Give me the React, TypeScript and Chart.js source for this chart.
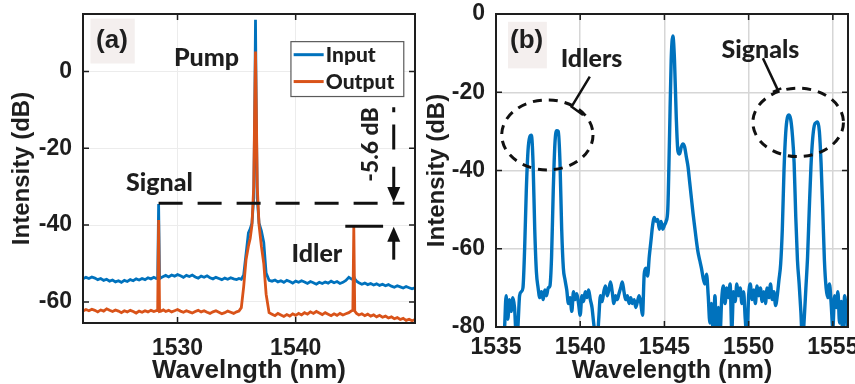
import React, { useEffect, useRef } from "react";
import { Chart, registerables } from "chart.js";

Chart.register(...registerables);

// ---------------- Panel (a) data ----------------
const wavelengthA = [
  1522.0, 1522.25, 1522.5, 1522.75, 1523.0, 1523.25, 1523.5, 1523.75, 1524.0, 1524.25, 1524.5, 1524.75, 1525.0,
  1525.25, 1525.5, 1525.75, 1526.0, 1526.25, 1526.5, 1526.75, 1527.0, 1527.25, 1527.5, 1527.75, 1528.0, 1528.2,
  1528.32, 1528.4, 1528.48,
  1528.6, 1528.8, 1529.0, 1529.25, 1529.5, 1529.75, 1530.0, 1530.25, 1530.5, 1530.75, 1531.0, 1531.25, 1531.5,
  1531.75, 1532.0, 1532.25, 1532.5, 1532.75, 1533.0, 1533.25, 1533.5, 1533.75, 1534.0, 1534.25, 1534.5, 1534.75,
  1535.0, 1535.2,
  1535.4, 1535.6, 1535.8, 1536.0, 1536.15, 1536.3, 1536.45, 1536.53, 1536.6, 1536.67, 1536.75, 1536.9, 1537.1,
  1537.3, 1537.5, 1537.75,
  1538.0, 1538.25, 1538.5, 1538.75, 1539.0, 1539.25, 1539.5, 1539.75, 1540.0, 1540.25, 1540.5, 1540.75, 1541.0,
  1541.25, 1541.5, 1541.75, 1542.0, 1542.25, 1542.5, 1542.75, 1543.0, 1543.25, 1543.5, 1543.75, 1544.0, 1544.25,
  1544.5, 1544.7,
  1544.84, 1544.92, 1545.0,
  1545.15, 1545.35, 1545.6, 1545.85, 1546.1, 1546.35, 1546.6, 1546.85, 1547.1, 1547.35, 1547.6, 1547.85, 1548.1,
  1548.35, 1548.6, 1548.85, 1549.1, 1549.35, 1549.6, 1549.85, 1550.1, 1550.3,
];

const inputA = [
  -54.0, -53.6, -53.9, -53.5, -53.8, -54.2, -53.9, -54.4, -54.1, -54.6, -54.3, -54.8, -54.5,
  -54.9, -54.4, -54.7, -54.2, -54.5, -54.0, -54.3, -53.9, -54.2, -53.7, -54.0, -53.6, -53.9,
  -53.8, -34.5, -54.0,
  -53.7, -53.4, -53.1, -53.5, -53.0, -53.3, -52.9, -53.2, -53.6, -53.1, -53.4, -53.0, -53.5,
  -53.8, -53.3, -53.6, -53.2, -53.7, -54.0, -53.6, -53.9, -54.2, -53.8, -54.1, -53.7, -54.0,
  -54.2, -53.9,
  -54.1, -53.0, -47.5, -42.0, -41.0, -39.5, -33.0, -12.0, 13.5, -12.0, -33.0, -39.5, -41.5,
  -44.5, -52.5, -54.4,
  -54.6, -54.3, -54.8, -54.5, -54.9, -54.4, -54.7, -55.1, -54.6, -54.9, -54.5, -54.8, -55.2,
  -54.7, -55.0, -55.4, -54.9, -55.2, -54.8, -55.1, -54.6, -55.0, -54.7, -55.2, -54.9, -54.4,
  -53.6, -54.0,
  -54.2, -53.4, -54.0,
  -54.6, -55.0, -55.4, -55.1, -55.5, -55.2, -55.6, -55.3, -55.7, -55.4, -55.8, -55.5, -55.9,
  -56.2, -55.8, -56.1, -56.4, -56.0, -56.3, -56.6, -56.3, -56.5,
];

const outputA = [
  -62.4, -62.0, -62.3, -61.9, -62.2, -62.6, -62.1, -62.4, -61.8, -62.2, -62.5, -62.1, -62.4,
  -62.8, -62.3, -62.6, -62.2, -62.5, -62.9, -62.4, -62.7, -62.3, -62.6, -62.2, -62.5, -62.3,
  -62.3, -38.7, -62.5,
  -62.4, -62.1, -62.5, -62.2, -62.6, -62.3, -62.0, -62.4, -62.7, -62.3, -62.6, -62.9, -62.5,
  -62.2, -62.6, -62.3, -62.7, -63.0, -62.6, -62.3, -62.7, -63.1, -62.8, -62.4, -62.7, -63.0,
  -62.6, -62.4,
  -61.5, -56.0, -49.0, -45.5, -43.5, -40.0, -30.0, -10.0, 5.2, -10.0, -30.0, -40.0, -45.5,
  -50.0, -58.0, -62.8,
  -63.2, -63.6, -63.0, -63.4, -63.8, -63.3, -63.7, -63.1, -63.5, -63.0, -63.4, -62.8, -63.2,
  -62.6, -63.0, -62.5, -62.9, -63.3, -62.8, -63.2, -63.6, -63.1, -63.5, -63.0, -63.4, -63.1,
  -62.8, -62.4,
  -62.2, -40.5, -62.4,
  -63.0, -63.4, -63.1, -63.6, -63.2, -63.7, -63.4, -63.9, -63.5, -64.0, -63.7, -64.2, -63.9,
  -64.4, -64.1, -64.6, -64.3, -64.8, -64.5, -64.9, -64.6, -64.4,
];

const seriesNamesA = ["Input", "Output"];
const xTicksA = [1530, 1540];
const yTicksA = [0, -20, -40, -60];

// ---------------- Panel (b) data ----------------
const wavelengthB = [
  1535.0, 1535.1, 1535.2, 1535.3, 1535.4, 1535.5, 1535.6, 1535.7, 1535.8, 1535.9,
  1536.0, 1536.1, 1536.2, 1536.3, 1536.4, 1536.5, 1536.6, 1536.7, 1536.8, 1536.9,
  1537.0, 1537.1, 1537.2, 1537.3, 1537.4, 1537.5, 1537.6, 1537.7, 1537.8, 1537.9,
  1538.0, 1538.1, 1538.2, 1538.3, 1538.4, 1538.5, 1538.6, 1538.7, 1538.8, 1538.9,
  1539.0, 1539.1, 1539.2, 1539.3, 1539.4, 1539.5, 1539.6, 1539.7, 1539.8, 1539.9,
  1540.0, 1540.1, 1540.2, 1540.3, 1540.4, 1540.5, 1540.6, 1540.7, 1540.8, 1540.9,
  1541.0, 1541.1, 1541.2, 1541.3, 1541.4, 1541.5, 1541.6, 1541.7, 1541.8, 1541.9,
  1542.0, 1542.1, 1542.2, 1542.3, 1542.4, 1542.5, 1542.6, 1542.7, 1542.8, 1542.9,
  1543.0, 1543.1, 1543.2, 1543.3, 1543.4, 1543.5, 1543.6, 1543.7, 1543.8, 1543.9,
  1544.0, 1544.1, 1544.2, 1544.3, 1544.4, 1544.5, 1544.6, 1544.7, 1544.8, 1544.9,
  1545.0, 1545.1, 1545.2, 1545.3, 1545.4, 1545.5, 1545.6, 1545.7, 1545.8, 1545.9,
  1546.0, 1546.1, 1546.2, 1546.3, 1546.4, 1546.5, 1546.6, 1546.7, 1546.8, 1546.9,
  1547.0, 1547.1, 1547.2, 1547.3, 1547.4, 1547.5, 1547.6, 1547.7, 1547.8, 1547.9,
  1548.0, 1548.1, 1548.2, 1548.3, 1548.4, 1548.5, 1548.6, 1548.7, 1548.8, 1548.9,
  1549.0, 1549.1, 1549.2, 1549.3, 1549.4, 1549.5, 1549.6, 1549.7, 1549.8, 1549.9,
  1550.0, 1550.1, 1550.2, 1550.3, 1550.4, 1550.5, 1550.6, 1550.7, 1550.8, 1550.9,
  1551.0, 1551.1, 1551.2, 1551.3, 1551.4, 1551.5, 1551.6, 1551.7, 1551.8, 1551.9,
  1552.0, 1552.1, 1552.2, 1552.3, 1552.4, 1552.5, 1552.6, 1552.7, 1552.8, 1552.9,
  1553.0, 1553.1, 1553.2, 1553.3, 1553.4, 1553.5, 1553.6, 1553.7, 1553.8, 1553.9,
  1554.0, 1554.1, 1554.2, 1554.3, 1554.4, 1554.5, 1554.6, 1554.7, 1554.8, 1554.9,
  1555.0, 1555.1, 1555.2, 1555.3, 1555.4, 1555.5, 1555.6, 1555.7, 1555.8, 1555.9,
  1556.0,
];

const intensityB = [
  -84, -83, -85, -82, -84, -81, -72, -78, -73, -76,
  -72.5, -75, -82, -80, -72, -71, -70, -60, -45, -35,
  -31.5, -31, -38, -55, -66, -70, -72.5, -71, -73, -70.5,
  -72, -70, -69.5, -62, -45, -33, -29.8, -30, -38, -55,
  -65, -68, -70.5, -74, -72.5, -76, -71, -73, -71.5, -74,
  -77, -72, -73.5, -71, -72.5, -70.5, -73, -75, -79, -82,
  -84, -78, -72, -73.5, -71, -69.5, -72, -70.5, -68.5, -71,
  -74, -72, -73, -71.5, -70, -68.5, -71, -73, -72, -74,
  -72.5, -74, -73, -75, -73.5, -72, -74, -77, -66.5, -65,
  -67, -62, -58, -54, -52, -53, -52.5, -55, -53, -55,
  -54, -53, -50, -32, -12, -5.6, -12, -26, -35, -35.8,
  -34, -33.2, -34, -36.5, -39, -43, -47, -51, -54.5, -58,
  -61, -63, -65, -67.5, -69, -66.5, -72, -79, -74, -82,
  -72, -84, -75, -82, -73, -69.5, -74, -70, -72.5, -69,
  -81, -71, -73.5, -69, -72, -70, -74, -71, -78, -83,
  -72, -69, -73, -70.5, -74, -69.5, -72, -70, -73.5, -71,
  -74, -70, -72.5, -69, -73, -71, -74.5, -72, -68, -64,
  -55, -40, -30.5, -26.5, -25.8, -27, -31, -38, -52, -63,
  -69, -76, -84, -78, -70, -62, -50, -39, -32, -28.5,
  -27.8, -27.6, -30, -38, -50, -63, -70, -72.5, -69, -74,
  -80.5, -72, -75, -71, -79, -73.5, -84, -72, -76, -81,
  -74,
];

const xTicksB = [1535, 1540, 1545, 1550, 1555];
const yTicksB = [0, -20, -40, -60, -80];

// ---------------- styling ----------------
const AXIS_FAMILY = "'Liberation Sans', Arial, Helvetica, sans-serif";
const NOTE_FAMILY = "Lato, 'Noto Sans', sans-serif";
const INK = "#1e1e1e";
const BLUE = "#0072BD";
const ORANGE = "#D95319";

type Pt = { x: number; y: number };
const toPoints = (xs: number[], ys: number[]): Pt[] => xs.map((x, i) => ({ x, y: ys[i] }));

function xAxis(min: number, max: number, ticks: number[], title: string, titleSize: number, labelPad: number, height: number, gridColor: string, gridWidth: number) {
  return {
    type: "linear" as const,
    min,
    max,
    afterBuildTicks: (s: any) => {
      s.ticks = ticks.map((v) => ({ value: v }));
    },
    afterFit: (s: any) => {
      s.height = height;
      s.paddingLeft = 0;
      s.paddingRight = 0;
    },
    ticks: {
      autoSkip: false,
      maxRotation: 0,
      minRotation: 0,
      padding: labelPad,
      color: INK,
      font: { family: AXIS_FAMILY, size: 23, weight: "bold" as const },
      callback: (v: any) => String(v),
    },
    grid: { color: gridColor, lineWidth: gridWidth, drawTicks: false },
    border: { display: false },
    title: {
      display: true,
      text: title,
      color: INK,
      padding: 0,
      font: { family: AXIS_FAMILY, size: titleSize, weight: "bold" as const, lineHeight: 1 },
    },
  };
}

function yAxis(min: number, max: number, ticks: number[], labelPad: number, width: number, titlePad: number, gridColor: string, gridWidth: number) {
  return {
    type: "linear" as const,
    min,
    max,
    afterBuildTicks: (s: any) => {
      s.ticks = ticks.map((v) => ({ value: v }));
    },
    afterFit: (s: any) => {
      s.width = width;
      s.paddingTop = 0;
      s.paddingBottom = 0;
    },
    ticks: {
      autoSkip: false,
      padding: labelPad,
      color: INK,
      font: { family: AXIS_FAMILY, size: 23, weight: "bold" as const },
      callback: (v: any) => String(v),
    },
    grid: { color: gridColor, lineWidth: gridWidth, drawTicks: false },
    border: { display: false },
    title: {
      display: true,
      text: "Intensity (dB)",
      color: INK,
      padding: { top: titlePad, bottom: 0 },
      font: { family: AXIS_FAMILY, size: 24, weight: "bold" as const, lineHeight: 1 },
    },
  };
}

function drawFrame(chart: any, xt: number[], yt: number[]) {
  const ctx: CanvasRenderingContext2D = chart.ctx;
  const { left, right, top, bottom } = chart.chartArea;
  const xs = chart.scales.x;
  const ys = chart.scales.y;
  ctx.save();
  ctx.strokeStyle = INK;
  ctx.lineWidth = 1.5;
  const L = 6;
  ctx.beginPath();
  xt.forEach((v) => {
    const p = xs.getPixelForValue(v);
    ctx.moveTo(p, bottom);
    ctx.lineTo(p, bottom - L);
    ctx.moveTo(p, top);
    ctx.lineTo(p, top + L);
  });
  yt.forEach((v) => {
    const p = ys.getPixelForValue(v);
    ctx.moveTo(left, p);
    ctx.lineTo(left + L, p);
    ctx.moveTo(right, p);
    ctx.lineTo(right - L, p);
  });
  ctx.stroke();
  ctx.lineWidth = 2;
  ctx.strokeRect(left, top, right - left, bottom - top);
  ctx.restore();
}

function panelTag(chart: any, box: number[], label: number[], text: string) {
  const ctx: CanvasRenderingContext2D = chart.ctx;
  const X = (v: number) => chart.scales.x.getPixelForValue(v);
  const Y = (v: number) => chart.scales.y.getPixelForValue(v);
  ctx.save();
  ctx.fillStyle = "#f4efee";
  ctx.fillRect(X(box[0]), Y(box[1]), X(box[2]) - X(box[0]), Y(box[3]) - Y(box[1]));
  ctx.fillStyle = INK;
  ctx.font = `bold 26px ${AXIS_FAMILY}`;
  ctx.textAlign = "center";
  ctx.textBaseline = "middle";
  ctx.fillText(text, X(label[0]), Y(label[1]));
  ctx.restore();
}

function arrow(ctx: CanvasRenderingContext2D, x: number, yFrom: number, yTip: number) {
  const dir = yTip > yFrom ? 1 : -1;
  const head = 15;
  const half = 6.5;
  ctx.beginPath();
  ctx.moveTo(x, yFrom);
  ctx.lineTo(x, yTip - dir * head * 0.7);
  ctx.stroke();
  ctx.beginPath();
  ctx.moveTo(x, yTip);
  ctx.lineTo(x - half, yTip - dir * head);
  ctx.lineTo(x + half, yTip - dir * head);
  ctx.closePath();
  ctx.fill();
}

// annotation anchors (data units)
const notesA = {
  tagBox: [1522.63, 13.8, 1526.38, 2.1],
  tagText: [1524.45, 8.0],
  words: [
    { text: "Pump", at: [1532.45, 1.4] },
    { text: "Signal", at: [1528.47, -31.2] },
    { text: "Idler", at: [1541.8, -49.7] },
  ],
  signalLevel: { y: -34.3, from: 1528.4, to: 1549.2 },
  idlerLevel: { y: -40.3, from: 1544.2, to: 1547.4 },
  gapX: 1548.3,
  gapMarks: { dot: [-9.3, -10.6], dash: [-13.8, -20.3], down: [-24.8, -34.0], up: [-49.0, -40.4] },
  gapText: { text: "-5.6 dB", at: [1546.95, -19.0] },
  legendBox: [1539.6, 7.8, 1549.15, -6.5],
  legendSwatch: [1539.83, 1542.37],
  legendTextX: 1542.55,
  legendRows: [4.4, -2.6],
};

const overlayA = {
  id: "overlayA",
  afterDatasetsDraw(chart: any) {
    const ctx: CanvasRenderingContext2D = chart.ctx;
    const X = (v: number) => chart.scales.x.getPixelForValue(v);
    const Y = (v: number) => chart.scales.y.getPixelForValue(v);
    drawFrame(chart, xTicksA, yTicksA);
    panelTag(chart, notesA.tagBox, notesA.tagText, "(a)");

    ctx.save();
    ctx.fillStyle = INK;
    ctx.strokeStyle = "#111";
    ctx.font = `900 25px ${NOTE_FAMILY}`;
    ctx.textAlign = "center";
    ctx.textBaseline = "alphabetic";
    notesA.words.forEach((w) => ctx.fillText(w.text, X(w.at[0]), Y(w.at[1])));

    // dashed reference levels
    ctx.lineWidth = 3;
    ctx.setLineDash([24, 15]);
    ctx.beginPath();
    ctx.moveTo(X(notesA.signalLevel.from), Y(notesA.signalLevel.y));
    ctx.lineTo(X(notesA.signalLevel.to), Y(notesA.signalLevel.y));
    ctx.stroke();
    ctx.setLineDash([]);
    ctx.beginPath();
    ctx.moveTo(X(notesA.idlerLevel.from), Y(notesA.idlerLevel.y));
    ctx.lineTo(X(notesA.idlerLevel.to), Y(notesA.idlerLevel.y));
    ctx.stroke();

    // gap marks and arrows
    const gx = X(notesA.gapX);
    const m = notesA.gapMarks;
    ctx.beginPath();
    ctx.moveTo(gx, Y(m.dot[0]));
    ctx.lineTo(gx, Y(m.dot[1]));
    ctx.moveTo(gx, Y(m.dash[0]));
    ctx.lineTo(gx, Y(m.dash[1]));
    ctx.stroke();
    ctx.fillStyle = "#111";
    arrow(ctx, gx, Y(m.down[0]), Y(m.down[1]));
    arrow(ctx, gx, Y(m.up[0]), Y(m.up[1]));

    // rotated gap label
    ctx.save();
    ctx.translate(X(notesA.gapText.at[0]), Y(notesA.gapText.at[1]));
    ctx.rotate(-Math.PI / 2);
    ctx.fillStyle = INK;
    ctx.font = `900 23px ${NOTE_FAMILY}`;
    ctx.textAlign = "center";
    ctx.textBaseline = "alphabetic";
    ctx.fillText(notesA.gapText.text, 0, 0);
    ctx.restore();

    // legend
    const b = notesA.legendBox;
    ctx.fillStyle = "#ffffff";
    ctx.fillRect(X(b[0]), Y(b[1]), X(b[2]) - X(b[0]), Y(b[3]) - Y(b[1]));
    ctx.strokeStyle = "#5a5a5a";
    ctx.lineWidth = 1.2;
    ctx.strokeRect(X(b[0]), Y(b[1]), X(b[2]) - X(b[0]), Y(b[3]) - Y(b[1]));
    const sets = chart.data.datasets;
    ctx.font = `900 21px ${NOTE_FAMILY}`;
    ctx.textAlign = "left";
    ctx.textBaseline = "middle";
    sets.forEach((ds: any, i: number) => {
      const yy = Y(notesA.legendRows[i]);
      ctx.strokeStyle = ds.borderColor;
      ctx.lineWidth = 3;
      ctx.beginPath();
      ctx.moveTo(X(notesA.legendSwatch[0]), yy);
      ctx.lineTo(X(notesA.legendSwatch[1]), yy);
      ctx.stroke();
      ctx.fillStyle = INK;
      ctx.fillText(ds.label, X(notesA.legendTextX), yy + 1);
    });
    ctx.restore();
  },
};

const notesB = {
  tagBox: [1535.71, -2.0, 1538.02, -13.9],
  tagText: [1536.82, -6.9],
  words: [
    { text: "Idlers", at: [1540.67, -13.5] },
    { text: "Signals", at: [1550.7, -11.3] },
  ],
  rings: [
    { c: [1538.05, -30.9], r: [2.71, 8.95] },
    { c: [1552.94, -27.7], r: [2.69, 8.74] },
  ],
  leaders: [
    [[1540.57, -16.0], [1539.49, -23.7], [1540.17, -25.8]],
    [[1550.85, -11.3], [1551.73, -19.4]],
    [[1551.44, -19.9], [1551.94, -19.0]],
  ],
};

const overlayB = {
  id: "overlayB",
  afterDatasetsDraw(chart: any) {
    const ctx: CanvasRenderingContext2D = chart.ctx;
    const xs = chart.scales.x;
    const ys = chart.scales.y;
    const X = (v: number) => xs.getPixelForValue(v);
    const Y = (v: number) => ys.getPixelForValue(v);
    drawFrame(chart, xTicksB, yTicksB);
    panelTag(chart, notesB.tagBox, notesB.tagText, "(b)");
    ctx.save();
    ctx.fillStyle = INK;
    ctx.font = `900 25px ${NOTE_FAMILY}`;
    ctx.textAlign = "center";
    ctx.textBaseline = "alphabetic";
    notesB.words.forEach((w) => ctx.fillText(w.text, X(w.at[0]), Y(w.at[1])));

    ctx.strokeStyle = "#111";
    ctx.lineWidth = 3;
    ctx.setLineDash([9, 7]);
    notesB.rings.forEach((r) => {
      const cx = X(r.c[0]);
      const cy = Y(r.c[1]);
      const rx = Math.abs(X(r.c[0] + r.r[0]) - cx);
      const ry = Math.abs(Y(r.c[1] + r.r[1]) - cy);
      ctx.beginPath();
      ctx.ellipse(cx, cy, rx, ry, 0, 0, Math.PI * 2);
      ctx.stroke();
    });
    ctx.setLineDash([]);
    ctx.lineWidth = 2.5;
    notesB.leaders.forEach((pl) => {
      ctx.beginPath();
      pl.forEach((p, i) => (i === 0 ? ctx.moveTo(X(p[0]), Y(p[1])) : ctx.lineTo(X(p[0]), Y(p[1]))));
      ctx.stroke();
    });
    ctx.restore();
  },
};

export default function App() {
  const refA = useRef<HTMLCanvasElement | null>(null);
  const refB = useRef<HTMLCanvasElement | null>(null);

  useEffect(() => {
    if (!refA.current || !refB.current) return;
    const common = {
      animation: false as const,
      responsive: true,
      maintainAspectRatio: false,
      devicePixelRatio: 1,
      events: [] as any[],
      plugins: { legend: { display: false }, tooltip: { enabled: false } },
      elements: { point: { radius: 0 }, line: { tension: 0 } },
    };

    const chartA = new Chart(refA.current, {
      type: "line",
      data: {
        datasets: [
          { label: seriesNamesA[0], data: toPoints(wavelengthA, inputA), borderColor: BLUE, borderWidth: 2.8, order: 1 },
          { label: seriesNamesA[1], data: toPoints(wavelengthA, outputA), borderColor: ORANGE, borderWidth: 2.8, order: 0 },
        ],
      },
      options: {
        ...common,
        layout: { padding: { left: 0, right: 15, top: 14, bottom: 0 } },
        scales: {
          x: xAxis(1522, 1550.1, xTicksA, "Wavelngth (nm)", 26, 12, 61, "#ececec", 1),
          y: yAxis(-65.5, 15, yTicksA, 11, 83, 10, "#ececec", 1),
        },
      } as any,
      plugins: [overlayA],
    });

    const chartB = new Chart(refB.current, {
      type: "line",
      data: {
        datasets: [
          {
            label: "Spectrum",
            data: toPoints(wavelengthB, intensityB),
            borderColor: BLUE,
            borderWidth: 3.4,
            cubicInterpolationMode: "monotone",
            borderJoinStyle: "round",
          },
        ],
      },
      options: {
        ...common,
        layout: { padding: { left: 0, right: 7, top: 14, bottom: 0 } },
        scales: {
          x: xAxis(1535, 1555.9, xTicksB, "Wavelength (nm)", 25, 7, 57, "#d6d6d6", 1.5),
          y: yAxis(-80, 0, yTicksB, 11, 71, 0, "#d6d6d6", 1.5),
        },
      } as any,
      plugins: [overlayB],
    });

    return () => {
      chartA.destroy();
      chartB.destroy();
    };
  }, []);

  return (
    <div style={{ position: "absolute", left: 0, top: 0, width: 855, height: 384, background: "#ffffff", overflow: "hidden" }}>
      <div style={{ position: "absolute", left: 0, top: 0, width: 430, height: 384 }}>
        <canvas ref={refA} />
      </div>
      <div style={{ position: "absolute", left: 425, top: 0, width: 430, height: 384 }}>
        <canvas ref={refB} />
      </div>
    </div>
  );
}
